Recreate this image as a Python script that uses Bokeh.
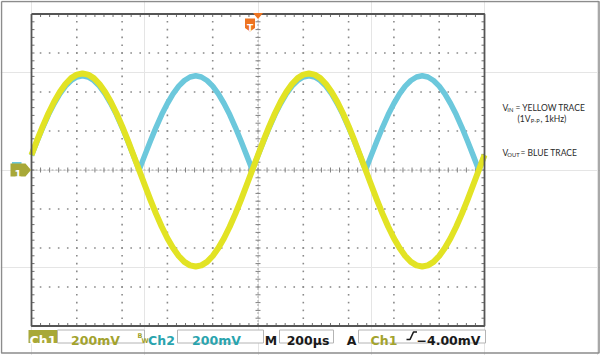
import numpy as np
from bokeh.plotting import figure
from bokeh.models import Range1d
from bokeh.embed import file_html
from bokeh.resources import INLINE
from bokeh.core.properties import value

# ---------------- data read from the scope screen ----------------
# sample times (µs) across the 10 horizontal divisions
time_us = [-1000, -975, -950, -925, -900, -875, -850, -825, -800, -775,
           -750, -725, -700, -675, -650, -625, -600, -575, -550, -525,
           -500, -475, -450, -425, -400, -375, -350, -325, -300, -275,
           -250, -225, -200, -175, -150, -125, -100, -75, -50, -25,
           0, 25, 50, 75, 100, 125, 150, 175, 200, 225,
           250, 275, 300, 325, 350, 375, 400, 425, 450, 475,
           500, 525, 550, 575, 600, 625, 650, 675, 700, 725,
           750, 775, 800, 825, 850, 875, 900, 925, 950, 975, 1000]

# Ch1 (VIN, yellow): 1Vp-p, 1kHz sine, in mV
vin_mv = [77, 153, 225, 291, 350, 400, 441, 471, 489, 495,
          489, 471, 441, 400, 350, 291, 225, 153, 77, 0,
          -77, -153, -225, -291, -350, -400, -441, -471, -489, -495,
          -489, -471, -441, -400, -350, -291, -225, -153, -77, 0,
          77, 153, 225, 291, 350, 400, 441, 471, 489, 495,
          489, 471, 441, 400, 350, 291, 225, 153, 77, 0,
          -77, -153, -225, -291, -350, -400, -441, -471, -489, -495,
          -489, -471, -441, -400, -350, -291, -225, -153, -77, 0, 77]

# Ch2 (VOUT, blue): full-wave rectified output, in mV
vout_mv = [75, 149, 219, 284, 341, 390, 430, 459, 477, 483,
           477, 459, 430, 390, 341, 284, 219, 149, 75, 0,
           75, 149, 219, 284, 341, 390, 430, 459, 477, 483,
           477, 459, 430, 390, 341, 284, 219, 149, 75, 0,
           75, 149, 219, 284, 341, 390, 430, 459, 477, 483,
           477, 459, 430, 390, 341, 284, 219, 149, 75, 0,
           75, 149, 219, 284, 341, 390, 430, 459, 477, 483,
           477, 459, 430, 390, 341, 284, 219, 149, 75, 0, 75]

ch1_scale = "200mV"
ch2_scale = "200mV"
time_scale = "200\u00b5s"
trig_source = "Ch1"
trig_level = "\u22124.00mV"
note_lines = ["= YELLOW TRACE", ", 1kHz)", "= BLUE TRACE"]

# ---------------- layout ----------------
W, H = 600, 355
GX0, GX1, GY0, GY1 = 31.0, 484.0, 13.5, 325.5
XMIN, XMAX, YMIN, YMAX = -1000, 1000, -800, 800
kx = (XMAX - XMIN) / (GX1 - GX0)
ky = (YMAX - YMIN) / (GY1 - GY0)

YELLOW = "#E2E324"
BLUE = "#6CC8DC"
OLIVE = "#A8A838"
OLIVE_TXT = "#A3A32E"
TEAL_TXT = "#2AA4AE"
ORANGE = "#EE7421"
DOT = "#8a8a8a"
FRAME = "#555555"

p = figure(width=W, height=H, output_backend="svg", toolbar_location=None,
           x_axis_location=None, y_axis_location=None,
           x_range=Range1d(XMIN - GX0 * kx, XMAX + (W - GX1) * kx),
           y_range=Range1d(YMIN - (H - GY1) * ky, YMAX + GY0 * ky),
           min_border=0, outline_line_color=None)
p.background_fill_color = "white"
p.border_fill_color = "white"
p.extra_x_ranges = {"px": Range1d(0, W)}
p.extra_y_ranges = {"px": Range1d(H, 0)}
PX = dict(x_range_name="px", y_range_name="px")

# ---- graticule dots ----
dx, dy = [], []
for gx in range(XMIN + 200, XMAX, 200):
    if gx == 0:
        continue
    for gy in range(YMIN + 40, YMAX, 40):
        dx.append(gx); dy.append(gy)
for gy in range(YMIN + 200, YMAX, 200):
    if gy == 0:
        continue
    for gx in range(XMIN + 40, XMAX, 40):
        dx.append(gx); dy.append(gy)
p.scatter(dx, dy, marker="square", size=1.6, fill_color=DOT, line_color=None)

# ---- center lines with minor ticks ----
p.line([XMIN, XMAX], [0, 0], line_color="#a8a8a8", line_width=1, line_dash="2 2")
p.line([0, 0], [YMIN, YMAX], line_color="#a8a8a8", line_width=1, line_dash="2 2")
tx = list(range(XMIN + 40, XMAX, 40))
ty = list(range(YMIN + 40, YMAX, 40))
p.segment(x0=tx, y0=[-2.5 * ky] * len(tx), x1=tx, y1=[2.5 * ky] * len(tx),
          line_color="#808080", line_width=1)
p.segment(x0=[-2.5 * kx] * len(ty), y0=ty, x1=[2.5 * kx] * len(ty), y1=ty,
          line_color="#808080", line_width=1)

# ---- border ticks ----
p.segment(x0=tx, y0=[YMAX] * len(tx), x1=tx, y1=[YMAX - 3 * ky] * len(tx),
          line_color="#707070", line_width=1)
p.segment(x0=tx, y0=[YMIN] * len(tx), x1=tx, y1=[YMIN + 3 * ky] * len(tx),
          line_color="#707070", line_width=1)
p.segment(x0=[XMIN] * len(ty), y0=ty, x1=[XMIN + 3 * kx] * len(ty), y1=ty,
          line_color="#707070", line_width=1)
p.segment(x0=[XMAX] * len(ty), y0=ty, x1=[XMAX - 3 * kx] * len(ty), y1=ty,
          line_color="#707070", line_width=1)

# ---- traces ----
p.line(time_us, vout_mv, line_color=BLUE, line_width=5.5, line_join="round")
p.line(time_us, vin_mv, line_color=YELLOW, line_width=6, line_join="round")

# ---- graticule frame ----
p.line([XMIN, XMAX, XMAX, XMIN, XMIN], [YMAX, YMAX, YMIN, YMIN, YMAX],
       line_color=FRAME, line_width=1.8)

# ---- outer image border ----
p.line([1, 598.5, 598.5, 1, 1], [1, 1, 352.5, 352.5, 1], line_color="#8c8c8c",
       line_width=1.5, **PX)

# ---- trigger markers ----
p.patch([252.5, 262.5, 257.5], [12.5, 12.5, 18.5], fill_color=ORANGE, line_color=None, **PX)
p.patch([244.5, 254.5, 254.5, 249.5, 244.5], [18, 18, 27.5, 31, 27.5],
        fill_color=ORANGE, line_color=None, **PX)
p.text(x=[249.5], y=[27], text=["T"], text_color="white", text_font=value("DejaVu Sans"),
       text_font_style="bold", text_font_size="9px", text_align="center",
       text_baseline="alphabetic", **PX)

# ---- ground markers ----
p.quad(left=[11.5], right=[21], top=[161.5], bottom=[163.5], fill_color=BLUE,
       line_color=None, **PX)
p.patch([10, 25, 30.5, 25, 10], [163, 163, 169.5, 176, 176], fill_color=OLIVE,
        line_color=None, **PX)
p.text(x=[17.5], y=[173.5], text=["1"], text_color="white", text_font=value("DejaVu Sans"),
       text_font_style="bold", text_font_size="10px", text_align="center",
       text_baseline="alphabetic", **PX)

# ---- right notes ----
NF = value("Lato")
p.text(x=[502, 515, 517, 540, 502, 520], y=[107.5, 107.5, 118, 118, 152.5, 152.5],
       text=["V", note_lines[0], "(1V", note_lines[1], "V", note_lines[2]],
       text_font=NF, text_font_size="8.5px", text_color="#2a2a2a",
       text_align="left", text_baseline="alphabetic", **PX)
p.text(x=[506.8, 530.3, 506.8], y=[109, 119.5, 154], text=["IN", "P-P", "OUT"],
       text_font=NF, text_font_size="5.8px", text_color="#2a2a2a",
       text_align="left", text_baseline="alphabetic", **PX)

# ---- bottom status bar ----
BT, BB = 329.5, 342.5
p.quad(left=[28], right=[57], top=[BT], bottom=[BB], fill_color=OLIVE, line_color=None, **PX)
p.quad(left=[57, 177, 279, 358], right=[144, 263, 333, 485], top=[BT] * 4, bottom=[BB] * 4,
       fill_color="white", line_color="#b4b4b4", line_width=1, **PX)
SF = value("DejaVu Sans")
BASE = 339.5
p.text(x=[42.5], y=[BASE], text=["Ch1"], text_color="white", text_font=SF,
       text_font_style="bold", text_font_size="12.5px", text_align="center",
       text_baseline="alphabetic", **PX)
p.text(x=[95, 383.5], y=[BASE, BASE], text=[ch1_scale, trig_source], text_color=OLIVE_TXT,
       text_font=SF, text_font_style="bold", text_font_size="12.5px", text_align="center",
       text_baseline="alphabetic", **PX)
p.text(x=[161, 216], y=[BASE, BASE], text=["Ch2", ch2_scale], text_color=TEAL_TXT,
       text_font=SF, text_font_style="bold", text_font_size="12.5px", text_align="center",
       text_baseline="alphabetic", **PX)
p.text(x=[270.5, 307.5, 351], y=[BASE] * 3, text=["M", time_scale, "A"], text_color="#1a1a1a",
       text_font=SF, text_font_style="bold", text_font_size="12.5px", text_align="center",
       text_baseline="alphabetic", **PX)
p.text(x=[416], y=[BASE], text=[trig_level], text_color="#1a1a1a",
       text_font=SF, text_font_style="bold", text_font_size="12.5px", text_align="left",
       text_baseline="alphabetic", **PX)
p.text(x=[137, 141], y=[335, 340], text=["B", "W"], text_color=OLIVE_TXT,
       text_font=SF, text_font_style="bold", text_font_size="6.5px", text_align="left",
       text_baseline="alphabetic", **PX)
p.line([406, 409.5, 413, 416.5], [339, 339, 331.5, 331.5], line_color="#1a1a1a",
       line_width=1.6, **PX)

open("out.html", "w").write(file_html(p, INLINE))
